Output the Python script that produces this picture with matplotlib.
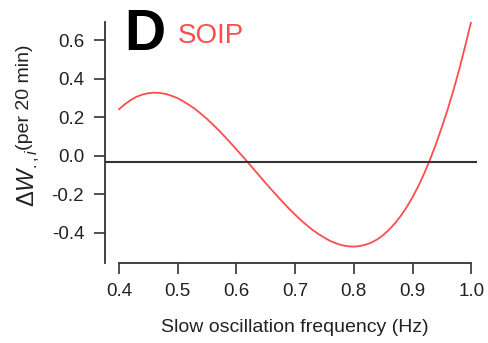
import matplotlib
matplotlib.use("Agg")
import matplotlib.pyplot as plt

plt.rcParams['font.family'] = ['Liberation Sans', 'DejaVu Sans']
plt.rcParams['mathtext.fontset'] = 'custom'
plt.rcParams['mathtext.rm'] = 'Liberation Sans'
plt.rcParams['mathtext.it'] = 'Liberation Sans:italic'

# Data
freq = [0.40, 0.41, 0.42, 0.43, 0.44, 0.45, 0.46, 0.47, 0.48, 0.49, 0.50,
        0.51, 0.52, 0.53, 0.54, 0.55, 0.56, 0.57, 0.58, 0.59, 0.60,
        0.61, 0.62, 0.63, 0.64, 0.65, 0.66, 0.67, 0.68, 0.69, 0.70,
        0.71, 0.72, 0.73, 0.74, 0.75, 0.76, 0.77, 0.78, 0.79, 0.80,
        0.81, 0.82, 0.83, 0.84, 0.85, 0.86, 0.87, 0.88, 0.89, 0.90,
        0.91, 0.92, 0.93, 0.94, 0.95, 0.96, 0.97, 0.98, 0.99, 1.00]
delta_w = [0.243, 0.269, 0.291, 0.308, 0.319, 0.326, 0.329, 0.327, 0.322, 0.312, 0.300,
           0.283, 0.264, 0.243, 0.218, 0.192, 0.163, 0.133, 0.101, 0.068, 0.034,
           0.000, -0.035, -0.071, -0.106, -0.142, -0.176, -0.210, -0.243, -0.275, -0.305,
           -0.334, -0.360, -0.385, -0.406, -0.425, -0.442, -0.454, -0.464, -0.469, -0.471,
           -0.468, -0.461, -0.450, -0.433, -0.411, -0.383, -0.350, -0.311, -0.266, -0.214,
           -0.156, -0.090, -0.017, 0.063, 0.151, 0.243, 0.345, 0.455, 0.575, 0.700]
baseline = -0.032
xticks = [0.4, 0.5, 0.6, 0.7, 0.8, 0.9, 1.0]
xticklabels = ['0.4', '0.5', '0.6', '0.7', '0.8', '0.9', '1.0']
yticks = [-0.4, -0.2, 0.0, 0.2, 0.4, 0.6]
yticklabels = ['-0.4', '-0.2', '0.0', '0.2', '0.4', '0.6']

fig = plt.figure(figsize=(4.89, 3.43), dpi=100)
ax = fig.add_axes([105/489, 80/343, 373/489, 241/343])

ax.plot(freq, delta_w, color='#ff4d4d', lw=1.3)
ax.hlines(baseline, 0.3761, 1.009, color='#333333', lw=1.5)

ax.set_xlim(0.3761, 1.0115)
ax.set_ylim(-0.556, 0.696)

for s in ['top', 'right']:
    ax.spines[s].set_visible(False)
for s in ['left', 'bottom']:
    ax.spines[s].set_color('#333333')
    ax.spines[s].set_linewidth(1.3)
ax.spines['bottom'].set_bounds(0.4, 1.0)

ax.set_xticks(xticks)
ax.set_xticklabels(xticklabels)
ax.set_yticks(yticks)
ax.set_yticklabels(yticklabels)
ax.tick_params(axis='both', direction='out', length=8, width=1.2, color='#333333',
               labelsize=13.5, labelcolor='#222222')
ax.tick_params(axis='x', pad=6.5)
ax.tick_params(axis='y', pad=7)

fig.text(294.5/489, (343-332)/343, 'Slow oscillation frequency (Hz)', ha='center',
         va='baseline', fontsize=14, color='#222222')

fig.text(29/489, (343-207)/343, r'$\Delta W_{.,i}$', rotation=90, ha='center', va='bottom',
         fontsize=17, color='#222222')
fig.text(25/489, (343-150)/343, '(per 20 min)', rotation=90, ha='center', va='bottom',
         fontsize=14, color='#222222')

fig.text(124/489, (343-50)/343, 'D', fontsize=41, fontweight='bold', color='black',
         ha='left', va='baseline')
fig.text(178/489, (343-43)/343, 'SOIP', fontsize=20, color='#ff4d4d',
         ha='left', va='baseline')

fig.savefig('out.png', dpi=100)
